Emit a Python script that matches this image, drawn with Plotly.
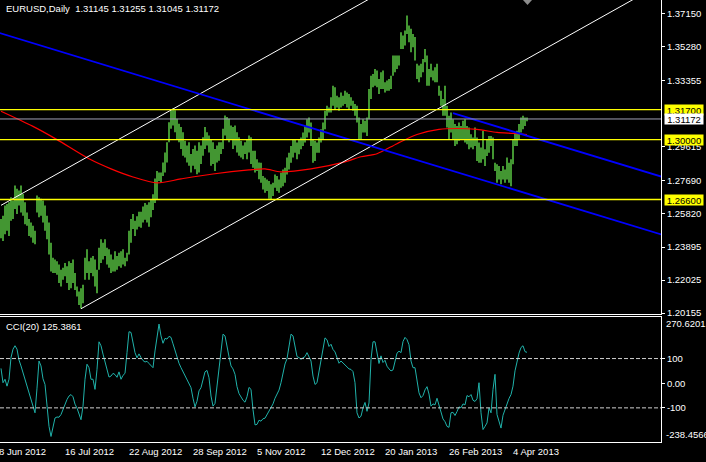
import plotly.graph_objects as go

# ---------------- data ----------------
high = [
    1.2550, 1.2568, 1.2626, 1.2635, 1.2645, 1.2673, 1.2654, 1.2740, 1.2721, 1.2711,
    1.2740, 1.2692, 1.2645, 1.2587, 1.2549, 1.2530, 1.2511, 1.2482, 1.2683, 1.2673,
    1.2664, 1.2654, 1.2626, 1.2568, 1.2530, 1.2415, 1.2329, 1.2319, 1.2310, 1.2291,
    1.2262, 1.2272, 1.2300, 1.2281, 1.2310, 1.2300, 1.2319, 1.2243, 1.2166, 1.2138,
    1.2157, 1.2176, 1.2329, 1.2377, 1.2310, 1.2329, 1.2339, 1.2319, 1.2262, 1.2386,
    1.2434, 1.2415, 1.2434, 1.2386, 1.2377, 1.2348, 1.2319, 1.2367, 1.2339, 1.2358,
    1.2367, 1.2377, 1.2329, 1.2358, 1.2482, 1.2549, 1.2578, 1.2539, 1.2565, 1.2590,
    1.2590, 1.2620, 1.2640, 1.2630, 1.2645, 1.2660, 1.2690, 1.2780, 1.2822, 1.2813,
    1.2813, 1.2870, 1.2927, 1.2985, 1.3099, 1.3166, 1.3176, 1.3166, 1.3118, 1.3090,
    1.3071, 1.3042, 1.2994, 1.2966, 1.2985, 1.2918, 1.2947, 1.2966, 1.2937, 1.2985,
    1.2966, 1.3013, 1.3071, 1.3042, 1.3023, 1.3004, 1.2985, 1.2947, 1.2966, 1.2985,
    1.2985, 1.3061, 1.3137, 1.3128, 1.3118, 1.3080, 1.3071, 1.3080, 1.3042, 1.3013,
    1.2994, 1.2966, 1.2985, 1.3004, 1.3023, 1.3013, 1.2937, 1.2937, 1.2889, 1.2870,
    1.2869, 1.2793, 1.2784, 1.2774, 1.2765, 1.2746, 1.2755, 1.2802, 1.2793, 1.2774,
    1.2812, 1.2831, 1.2840, 1.2898, 1.2926, 1.2964, 1.3002, 1.3002, 1.2983, 1.3002,
    1.3012, 1.3040, 1.3078, 1.3116, 1.3126, 1.3097, 1.3002, 1.2993, 1.2983, 1.3012,
    1.3059, 1.3097, 1.3164, 1.3192, 1.3183, 1.3240, 1.3306, 1.3297, 1.3249, 1.3240,
    1.3268, 1.3249, 1.3278, 1.3268, 1.3259, 1.3240, 1.3221, 1.3202, 1.3192, 1.3126,
    1.3088, 1.3116, 1.3107, 1.3126, 1.3287, 1.3363, 1.3373, 1.3401, 1.3392, 1.3344,
    1.3382, 1.3392, 1.3325, 1.3335, 1.3344, 1.3363, 1.3477, 1.3477, 1.3477, 1.3477,
    1.3610, 1.3591, 1.3620, 1.3705, 1.3648, 1.3629, 1.3600, 1.3582, 1.3430, 1.3420,
    1.3430, 1.3458, 1.3515, 1.3477, 1.3401, 1.3430, 1.3392, 1.3411, 1.3430, 1.3306,
    1.3278, 1.3230, 1.3306, 1.3192, 1.3135, 1.3154, 1.3116, 1.3088, 1.3078, 1.3097,
    1.3078, 1.3107, 1.3116, 1.3078, 1.3069, 1.3031, 1.3012, 1.3069, 1.3012, 1.2983,
    1.2955, 1.3050, 1.2945, 1.3002, 1.3021, 1.3021, 1.3012, 1.2869, 1.2860, 1.2850,
    1.2822, 1.2850, 1.2831, 1.2898, 1.2869, 1.2888, 1.3002, 1.3040, 1.3050, 1.3088,
    1.3126, 1.3135, 1.3126, 1.31255,
]
low = [
    1.2440, 1.2425, 1.2463, 1.2482, 1.2453, 1.2539, 1.2549, 1.2606, 1.2578, 1.2626,
    1.2587, 1.2568, 1.2520, 1.2511, 1.2453, 1.2444, 1.2415, 1.2406, 1.2587, 1.2559,
    1.2568, 1.2530, 1.2482, 1.2434, 1.2348, 1.2252, 1.2243, 1.2243, 1.2233, 1.2186,
    1.2166, 1.2205, 1.2224, 1.2186, 1.2147, 1.2157, 1.2186, 1.2147, 1.2109, 1.2061,
    1.2042, 1.2071, 1.2205, 1.2243, 1.2205, 1.2243, 1.2224, 1.2166, 1.2128, 1.2262,
    1.2300, 1.2319, 1.2339, 1.2291, 1.2272, 1.2243, 1.2252, 1.2252, 1.2262, 1.2281,
    1.2272, 1.2291, 1.2281, 1.2310, 1.2348, 1.2415, 1.2492, 1.2453, 1.2490, 1.2505,
    1.2500, 1.2530, 1.2545, 1.2530, 1.2505, 1.2560, 1.2600, 1.2640, 1.2660, 1.2765,
    1.2755, 1.2794, 1.2813, 1.2870, 1.2985, 1.3061, 1.3080, 1.3042, 1.3004, 1.2985,
    1.2947, 1.2908, 1.2899, 1.2870, 1.2851, 1.2813, 1.2851, 1.2832, 1.2803, 1.2813,
    1.2861, 1.2908, 1.2947, 1.2966, 1.2927, 1.2851, 1.2861, 1.2822, 1.2870, 1.2880,
    1.2918, 1.2947, 1.3023, 1.3004, 1.2985, 1.3004, 1.2947, 1.2966, 1.2927, 1.2908,
    1.2899, 1.2889, 1.2918, 1.2889, 1.2927, 1.2861, 1.2841, 1.2813, 1.2822, 1.2775,
    1.2755, 1.2717, 1.2698, 1.2708, 1.2665, 1.2661, 1.2680, 1.2727, 1.2708, 1.2698,
    1.2727, 1.2736, 1.2755, 1.2802, 1.2831, 1.2869, 1.2898, 1.2926, 1.2888, 1.2917,
    1.2945, 1.2964, 1.2983, 1.3012, 1.3040, 1.2964, 1.2869, 1.2879, 1.2926, 1.2926,
    1.2983, 1.3002, 1.3059, 1.3135, 1.3154, 1.3154, 1.3192, 1.3173, 1.3183, 1.3164,
    1.3183, 1.3192, 1.3202, 1.3183, 1.3173, 1.3192, 1.3164, 1.3135, 1.3097, 1.3002,
    1.3002, 1.3040, 1.3040, 1.3021, 1.3116, 1.3230, 1.3297, 1.3306, 1.3297, 1.3259,
    1.3287, 1.3287, 1.3268, 1.3278, 1.3278, 1.3287, 1.3363, 1.3382, 1.3401, 1.3420,
    1.3515, 1.3515, 1.3534, 1.3600, 1.3553, 1.3496, 1.3525, 1.3449, 1.3344, 1.3325,
    1.3354, 1.3382, 1.3439, 1.3306, 1.3306, 1.3354, 1.3335, 1.3325, 1.3325, 1.3249,
    1.3192, 1.3135, 1.3135, 1.3069, 1.3002, 1.3040, 1.3002, 1.2964, 1.2974, 1.2993,
    1.3002, 1.3002, 1.2983, 1.2974, 1.2945, 1.2955, 1.2945, 1.2964, 1.2879, 1.2869,
    1.2869, 1.2888, 1.2850, 1.2907, 1.2926, 1.2964, 1.2888, 1.2822, 1.2755, 1.2774,
    1.2746, 1.2774, 1.2755, 1.2774, 1.2755, 1.2736, 1.2860, 1.2964, 1.2964, 1.3002,
    1.3040, 1.3059, 1.3078, 1.31045,
]
cci = [
    60, 2, 16, -12, 16, 104, 138, 152, 138, 94, 70, 43, 22, -5, -36, -66, -96, -120, -20, 90,
    70, 18, -5, -86, -175, -216, -175, -141, -137, -138, -127, -104, -86, -66, -52, -46, -55, -85, -101, -123,
    -148, -93, 16, 77, 63, 16, 16, -25, 56, 168, 152, 118, 89, 53, 25, 29, 40, 35, 24, 46,
    16, 32, 40, 124, 209, 206, 158, 124, 103, 119, 104, 92, 86, 89, 80, 70, 63, 131, 192, 240,
    192, 162, 182, 179, 190, 186, 160, 130, 105, 81, 63, 47, 31, 14, -2, -18, -61, -96, -73, -31,
    -18, 9, 46, 52, 22, -52, -93, -82, -14, 59, 131, 199, 192, 145, 108, 70, 58, 36, -14, -42,
    -59, -69, -77, -55, -17, -25, -107, -169, -167, -150, -154, -144, -142, -126, -110, -100, -84, -61, -44, -28,
    2, 43, 78, 99, 148, 199, 192, 145, 108, 104, 97, 103, 108, 124, 108, 90, 29, -5, 2, 50,
    97, 146, 184, 176, 149, 158, 137, 127, 105, 81, 90, 82, 74, 66, 58, 56, 47, 2, -120, -141,
    -134, -100, -78, -114, -80, 97, 168, 168, 131, 80, 111, 84, 93, 69, 58, 50, 54, 89, 122, 130,
    124, 169, 186, 177, 156, 90, 63, 63, 10, -39, -59, -50, -27, -14, -44, -93, -84, -88, -61, -90,
    -127, -145, -156, -175, -179, -120, -118, -131, -115, -96, -100, -84, -88, -50, -55, -46, -69, -74, -63, 2,
    -120, -188, -175, -161, -100, -120, -25, 36, -127, -154, -182, -130, -107, -81, -62, -46, -12, 50, 89, 122,
    145, 152, 128, 125.3861,
]
ma_bar = [0, 16, 28, 44, 55, 66, 78, 90, 106, 124, 132, 140, 155, 172, 180, 188,
          198, 208, 219, 228, 238, 248, 256, 263]
ma_val = [1.3161, 1.3075, 1.3000, 1.2891, 1.2834, 1.2788, 1.2754, 1.2777, 1.2805, 1.2828,
          1.2834, 1.2817, 1.2834, 1.2874, 1.2903, 1.2920, 1.2977, 1.3029, 1.3058, 1.3063,
          1.3058, 1.3041, 1.3035, 1.3029]

date_labels = ["8 Jun 2012", "16 Jul 2012", "22 Aug 2012", "28 Sep 2012", "5 Nov 2012",
               "12 Dec 2012", "20 Jan 2013", "26 Feb 2013", "4 Apr 2013"]
date_bars = [0, 32, 64, 96, 128, 160, 192, 224, 256]
price_ticks = [1.37150, 1.35280, 1.33355, 1.29615, 1.27690, 1.25820, 1.23895, 1.22025, 1.20155]
yellow_levels = [1.31700, 1.30000, 1.26600]
bid_price = 1.31172
quote = ["1.31145", "1.31255", "1.31045", "1.31172"]
cci_levels = [100, -100]
cci_max, cci_min = 270.6201, -238.4566
cci_last = 125.3861
# trend lines: (bar, price) anchor pairs
white_lines = [((0, 1.2627), (260, 1.4281)), ((40, 1.2040), (330, 1.3884))]
blue_lines = [((-1, 1.3606), (331, 1.2459)), ((226, 1.3150), (331, 1.2787))]

# ---------------- figure ----------------
FONT = "Liberation Sans, Arial, sans-serif"
FS = 9.5
W, H = 706, 462
MT, MB, ML, MR = 0, 20, 0, 45
PW = W - ML - MR
PH = H - MT - MB
main_bottom_px, cci_top_px = 313.5, 316.5
main_dom = [(PH - main_bottom_px) / PH, 1]
cci_dom = [0, (PH - cci_top_px) / PH]
XR = [-0.5, 330.0]

fig = go.Figure()

n = min(len(high), len(low))
bx, by = [], []
for i in range(n):
    bx += [i, i, None]
    by += [low[i], high[i], None]
fig.add_trace(go.Scatter(x=bx, y=by, mode="lines", line=dict(color="#6CF050", width=1.25),
                         xaxis="x", yaxis="y", hoverinfo="skip"))

fig.add_trace(go.Scatter(x=ma_bar, y=ma_val, mode="lines",
                         line=dict(color="#FF0000", width=1.2, shape="spline", smoothing=0.8),
                         xaxis="x", yaxis="y"))

for (a, b) in white_lines:
    fig.add_trace(go.Scatter(x=[a[0], b[0]], y=[a[1], b[1]], mode="lines",
                             line=dict(color="#FFFFFF", width=1), xaxis="x", yaxis="y"))
for (a, b) in blue_lines:
    fig.add_trace(go.Scatter(x=[a[0], b[0]], y=[a[1], b[1]], mode="lines",
                             line=dict(color="#0000FF", width=1.8), xaxis="x", yaxis="y"))

fig.add_trace(go.Scatter(x=list(range(len(cci))), y=cci, mode="lines",
                         line=dict(color="#20B2AA", width=1), xaxis="x2", yaxis="y2"))

shapes = []
for lv in yellow_levels:
    shapes.append(dict(type="line", xref="x domain", yref="y", x0=0, x1=1, y0=lv, y1=lv,
                       line=dict(color="#FFFF00", width=1.3)))
shapes.append(dict(type="line", xref="x domain", yref="y", x0=0, x1=1, y0=bid_price, y1=bid_price,
                   line=dict(color="#A0A0B4", width=1)))
for lv in cci_levels:
    shapes.append(dict(type="line", xref="x2 domain", yref="y2", x0=0, x1=1, y0=lv, y1=lv,
                       line=dict(color="#D0D0D0", width=1, dash="4px,2px")))
# chart-shift marker
sx0, sx1, sxm = 523 / PW, 532 / PW, 527.5 / PW
shapes.append(dict(type="path", xref="paper", yref="paper",
                   path=f"M {sx0} 1 L {sx1} 1 L {sxm} {1 - 5 / PH} Z",
                   fillcolor="#8C8C8C", line=dict(width=0)))

ann = []
ann.append(dict(text="EURUSD,Daily\u00a0\u00a0" + " ".join(quote), xref="paper", yref="paper",
                x=4 / PW, y=1 - 8 / PH, xanchor="left", yanchor="middle", showarrow=False,
                font=dict(family=FONT, size=FS, color="white")))
ann.append(dict(text=f"CCI(20) {cci_last:.4f}", xref="paper", yref="paper",
                x=4 / PW, y=(PH - 326) / PH, xanchor="left", yanchor="middle", showarrow=False,
                font=dict(family=FONT, size=FS, color="white")))
for lab, b in zip(date_labels, date_bars):
    ann.append(dict(text=lab, xref="x2", yref="paper", x=b, y=(PH - 452) / PH,
                    xanchor="left", yanchor="middle", xshift=-2 if b else -4, showarrow=False,
                    font=dict(family=FONT, size=FS, color="white")))
ann.append(dict(text=f"{cci_max:.4f}", xref="paper", yref="paper", x=664 / PW, y=(PH - 323) / PH,
                xanchor="left", yanchor="middle", showarrow=False,
                font=dict(family=FONT, size=FS, color="white")))
ann.append(dict(text=f"{cci_min:.4f}", xref="paper", yref="paper", x=664 / PW, y=(PH - 434) / PH,
                xanchor="left", yanchor="middle", showarrow=False,
                font=dict(family=FONT, size=FS, color="white")))
for lv in yellow_levels:
    ann.append(dict(text=f"{lv:.5f}", xref="paper", yref="y", x=664 / PW, y=lv,
                    xanchor="left", yanchor="middle", showarrow=False, bgcolor="#FFFF00",
                    width=38, height=10, borderpad=0,
                    font=dict(family=FONT, size=FS, color="black")))
ann.append(dict(text=f"{bid_price:.5f}", xref="paper", yref="y", x=664 / PW, y=bid_price,
                xanchor="left", yanchor="middle", showarrow=False, bgcolor="#FFFFFF",
                width=38, height=10, borderpad=0,
                font=dict(family=FONT, size=FS, color="black")))

axis_common = dict(showgrid=False, zeroline=False, linecolor="white", linewidth=1,
                   tickcolor="white", tickfont=dict(family=FONT, size=FS, color="white"))

fig.update_layout(
    width=W, height=H, margin=dict(l=ML, r=MR, t=MT, b=MB),
    paper_bgcolor="black", plot_bgcolor="black", showlegend=False,
    xaxis=dict(domain=[0, 1], range=XR, anchor="y", showticklabels=False, ticks="",
               showline=True, **axis_common),
    yaxis=dict(domain=main_dom, range=[1.2013, 1.37925], side="right", anchor="x",
               tickvals=price_ticks, ticktext=[f"{v:.5f}" for v in price_ticks],
               ticks="outside", ticklen=3, showline=True, **axis_common),
    xaxis2=dict(domain=[0, 1], range=XR, anchor="y2", showticklabels=False, ticks="",
                showline=True, mirror=True, **axis_common),
    yaxis2=dict(domain=cci_dom, range=[cci_min, cci_max], side="right", anchor="x2",
                tickvals=[100, 0, -100], ticktext=["100", "0.00", "-100"],
                ticks="outside", ticklen=3, showline=True, mirror=True, **axis_common),
    shapes=shapes, annotations=ann,
)

fig.write_html("out.html", config={"displayModeBar": False},
               post_script="document.body.style.margin='0';document.body.style.background='black';"
                           "document.documentElement.style.overflow='hidden';")
